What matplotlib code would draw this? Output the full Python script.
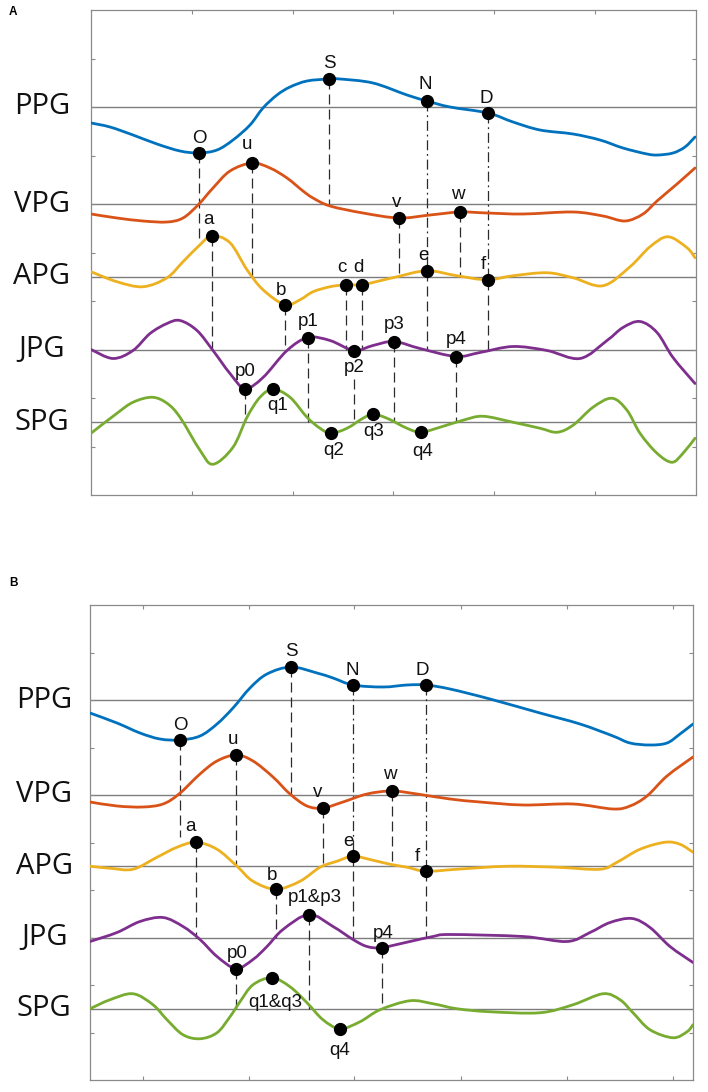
import matplotlib
matplotlib.use("Agg")
import matplotlib.pyplot as plt
from matplotlib.path import Path
from matplotlib.patches import PathPatch
from matplotlib.transforms import blended_transform_factory

# waveform names, colours (MATLAB default order) and baseline levels in y-tick units
SIGNALS = ['PPG', 'VPG', 'APG', 'JPG', 'SPG']
COLORS = ['#0072BD', '#D95319', '#EDB120', '#7E2F8E', '#77AC30']
LEVELS = [8.0, 6.0, 4.5, 3.0, 1.5]

# ---------------- panel A traces (t = samples, y = offset from own baseline)
PPG_A_T = [0, 19, 42, 66, 89, 108, 126, 142, 159, 172, 186, 199, 216, 238, 249, 282, 316,
           336, 359, 397, 422, 449, 482, 509, 532, 556, 567, 582, 594, 604]
PPG_A_Y = [-16, -20, -28, -37, -44, -46, -43, -33, -18, -1, 12, 20, 26, 28, 28, 24, 12,
           6, 0, -6, -15, -23, -27, -33, -41, -47, -48, -46, -40, -30]
VPG_A_T = [0, 26, 52, 76, 92, 107, 122, 139, 161, 179, 196, 212, 222, 239, 272, 308, 339,
           369, 396, 432, 482, 512, 534, 552, 566, 586, 604]
VPG_A_Y = [-10, -14, -17, -18, -14, -1, 16, 33, 41, 36, 26, 13, 6, -2, -9, -14, -11,
           -8, -9, -10, -8, -12, -17, -10, 3, 20, 36]
APG_A_T = [0, 26, 52, 76, 92, 109, 121, 139, 156, 172, 194, 209, 222, 239, 255, 271, 289,
           306, 336, 366, 396, 422, 456, 482, 512, 539, 559, 577, 596, 604]
APG_A_Y = [5, -5, -10, -1, 15, 32, 41, 34, 7, -13, -28, -23, -15, -10, -8, -8, -4,
           0, 6, 1, -3, 1, 4, -1, -9, 10, 30, 40, 29, 19]
JPG_A_T = [0, 22, 42, 59, 76, 89, 106, 122, 139, 154, 172, 196, 217, 239, 263, 282, 303,
           329, 365, 389, 422, 456, 489, 516, 532, 549, 566, 582, 604]
JPG_A_Y = [0, -9, -1, 16, 26, 29, 19, -1, -24, -39, -28, -1, 12, 9, -1, 4, 8,
           1, -7, -3, 3, -1, -9, 9, 22, 28, 17, -8, -34]
SPG_A_T = [0, 26, 42, 61, 76, 89, 109, 122, 142, 156, 169, 182, 199, 216, 229, 240, 256,
           272, 282, 296, 316, 330, 349, 372, 392, 422, 449, 466, 482, 502, 521, 536, 549,
           566, 581, 592, 604]
SPG_A_Y = [-11, 9, 20, 25, 19, 5, -28, -42, -25, 5, 25, 33, 25, 5, -6, -11, -6,
           4, 8, 4, -6, -10, -5, 2, 6, 0, -6, -10, -3, 15, 24, 12, -11,
           -31, -40, -31, -16]

# ---------------- panel B traces
PPG_B_T = [0, 27, 50, 70, 90, 110, 127, 143, 160, 177, 201, 227, 243, 263, 293, 317, 336,
           360, 400, 450, 490, 523, 540, 560, 577, 590, 603]
PPG_B_Y = [-13, -23, -33, -39, -40, -36, -24, -8, 12, 26, 33, 27, 22, 15, 13, 15, 15,
           11, 1, -13, -24, -36, -43, -45, -43, -34, -24]
VPG_B_T = [0, 27, 53, 73, 89, 110, 127, 146, 163, 183, 200, 217, 233, 253, 277, 302, 327,
           360, 390, 433, 483, 523, 540, 557, 577, 603]
VPG_B_Y = [-7, -11, -12, -9, 1, 21, 34, 40, 34, 18, 1, -11, -13, -7, 1, 4, 1,
           -4, -7, -10, -9, -14, -11, -1, 19, 38]
APG_B_T = [0, 20, 43, 67, 87, 106, 127, 147, 163, 186, 210, 230, 247, 263, 283, 300, 317,
           336, 367, 417, 467, 510, 527, 550, 575, 590, 603]
APG_B_Y = [0, -2, -3, 9, 19, 24, 17, 0, -15, -23, -15, -1, 5, 10, 6, 2, -1,
           -5, -3, 0, -1, -3, 4, 17, 24, 22, 14]
JPG_B_T = [0, 27, 50, 73, 93, 110, 127, 146, 163, 177, 193, 219, 243, 263, 277, 292, 320,
           343, 360, 433, 477, 500, 520, 542, 560, 580, 603]
JPG_B_Y = [-4, 5, 16, 20, 11, -2, -19, -31, -22, -9, 8, 23, 11, -2, -9, -10, -4,
           1, 3, 1, -4, 5, 15, 19, 10, -9, -25]
SPG_B_T = [0, 20, 43, 63, 77, 93, 110, 127, 140, 150, 163, 182, 200, 217, 233, 250, 270,
           290, 320, 343, 367, 400, 450, 483, 513, 530, 543, 560, 583, 597, 603]
SPG_B_Y = [0, 9, 15, 4, -11, -26, -30, -24, -8, 7, 24, 31, 22, 6, -11, -20, -13,
           -1, 8, 5, 0, -3, -4, 4, 15, 9, -4, -21, -29, -23, -16]

# ---------------- fiducial points
A_NAMES = ['O', 'S', 'N', 'D', 'u', 'v', 'w', 'a', 'b', 'c', 'd', 'e', 'f',
           'p0', 'p1', 'p2', 'p3', 'p4', 'q1', 'q2', 'q3', 'q4']
A_SIG = [0, 0, 0, 0, 1, 1, 1, 2, 2, 2, 2, 2, 2, 3, 3, 3, 3, 3, 4, 4, 4, 4]
A_T = [108, 238, 336, 397, 161, 308, 369, 121, 194, 255, 271, 336, 397,
       154, 217, 263, 303, 365, 182, 240, 282, 330]
A_Y = [-46, 28, 6, -6, 41, -14, -8, 41, -28, -8, -8, 6, -3,
       -39, 12, -1, 8, -7, 33, -11, 8, -10]

B_NAMES = ['O', 'S', 'N', 'D', 'u', 'v', 'w', 'a', 'b', 'e', 'f',
           'p0', 'p1&p3', 'p4', 'q1&q3', 'q4']
B_SIG = [0, 0, 0, 0, 1, 1, 1, 2, 2, 2, 2, 3, 3, 3, 4, 4]
B_T = [90, 201, 263, 336, 146, 233, 302, 106, 186, 263, 336, 146, 219, 292, 182, 250]
B_Y = [-40, 33, 15, 15, 40, -13, 4, 24, -23, 10, -5, -31, 23, -10, 31, -20]

# label offsets (pixels, text baseline relative to the dot)
A_LABEL_OFF = [(0, 10), (0, 11), (-2, 12), (-2, 10), (-5, 14), (-2, 11), (-2, 13),
               (-4, 12), (-4, 10), (-4, 13), (-4, 13), (-4, 11), (-5, 11),
               (0, 13), (0, 12), (0, -21), (0, 13), (0, 13),
               (5, -21), (3, -22), (1, -22), (2, -24)]
B_LABEL_OFF = [(0, 10), (0, 11), (-1, 10), (-4, 10), (-3, 11), (-5, 11), (-2, 12),
               (-6, 11), (-4, 9), (-5, 10), (-9, 10), (1, 11), (6, 12), (1, 10),
               (3, -29), (0, -26)]

# guide lines: from a point down to (signal, offset)
A_GUIDE_FROM = ['O', 'u', 'S', 'N', 'D', 'v', 'w', 'a', 'b', 'c', 'd', 'e', 'f',
                'p0', 'p1', 'p2', 'p3', 'p4']
A_GUIDE_TO = [(2, 37), (2, 0), (1, 0), (2, 6), (2, -3), (2, 0), (2, 0), (3, 0), (3, 0),
              (3, 0), (3, 0), (3, 0), (3, 0), (4, 0), (4, 0), (4, 0), (4, 0), (4, 0)]
B_GUIDE_FROM = ['O', 'u', 'S', 'N', 'D', 'v', 'w', 'a', 'b', 'e', 'f', 'p0', 'p1&p3', 'p4']
B_GUIDE_TO = [(2, 29), (2, 0), (1, 0), (2, 10), (2, -5), (2, 0), (2, 0), (3, 0), (3, 0),
              (3, 0), (3, 0), (4, 0), (4, 0), (4, 0)]
DASHDOT_FROM = ['N', 'D']

DASHED = (0, (8, 4))
DASHDOT = (0, (8, 3, 1.5, 3))


def smooth_path(xs, ys):
    """Catmull-Rom through the read points, drawn as cubic Bezier segments."""
    n = len(xs)
    verts = [(xs[0], ys[0])]
    codes = [Path.MOVETO]
    for i in range(n - 1):
        x0, y0 = (xs[i - 1], ys[i - 1]) if i > 0 else (xs[i], ys[i])
        x1, y1 = xs[i], ys[i]
        x2, y2 = xs[i + 1], ys[i + 1]
        x3, y3 = (xs[i + 2], ys[i + 2]) if i + 2 < n else (x2, y2)
        c1 = (x1 + (x2 - x0) / 6.0, y1 + (y2 - y0) / 6.0)
        c2 = (x2 - (x3 - x1) / 6.0, y2 - (y3 - y1) / 6.0)
        verts += [c1, c2, (x2, y2)]
        codes += [Path.CURVE4] * 3
    return Path(verts, codes)


def draw_panel(fig, rect, tag, tag_xy, traces, names, sig, pt, py, label_off,
               guide_from, guide_to, xmax, xticks, yunit, label_x):
    ax = fig.add_axes(rect)
    base = [lv * yunit for lv in LEVELS]
    ax.set_xlim(0, xmax)
    ax.set_ylim(0, 10 * yunit)
    ax.set_xticks(xticks)
    ax.set_yticks([k * yunit for k in range(1, 10)])
    ax.tick_params(direction='in', length=3, width=0.8, color='#8a8a8a',
                   top=True, right=True, labelbottom=False, labelleft=False)
    for s in ax.spines.values():
        s.set_color('#8a8a8a')
        s.set_linewidth(0.9)

    for b in base:
        ax.axhline(b, color='#7d7d7d', lw=1.0, zorder=1)

    for i, (t, y) in enumerate(traces):
        p = smooth_path(t, [base[i] + v for v in y])
        ax.add_patch(PathPatch(p, fill=False, edgecolor=COLORS[i], lw=2.0,
                               capstyle='round', joinstyle='round', zorder=3))

    idx = {n: k for k, n in enumerate(names)}
    for name, (to_sig, to_off) in zip(guide_from, guide_to):
        k = idx[name]
        top = base[sig[k]] + py[k]
        dy = label_off[k][1]
        if dy < 0:
            top += dy - 7
        ls = DASHDOT if name in DASHDOT_FROM else DASHED
        ax.plot([pt[k], pt[k]], [top, base[to_sig] + to_off], color='#2b2b2b',
                lw=0.9, ls=ls, zorder=2)

    for k, name in enumerate(names):
        y = base[sig[k]] + py[k]
        ax.plot(pt[k], y, 'o', color='black', ms=8.5, zorder=5)
        ax.annotate(name, (pt[k], y), xytext=label_off[k], textcoords='offset pixels',
                    ha='center', va='baseline', fontsize=13.5,
                    family='Liberation Sans', color='#111111', zorder=6)

    tr = blended_transform_factory(ax.transAxes, ax.transData)
    for name, b in zip(SIGNALS, base):
        ax.text(label_x, b, name, transform=tr, ha='center', va='center',
                fontsize=21, family='Open Sans', color='#111111')

    fig.text(tag_xy[0], tag_xy[1], tag, ha='center', va='center', fontsize=8.5,
             fontweight='bold', family='Liberation Sans')
    return ax


fig = plt.figure(figsize=(7.08, 10.92), dpi=100)

traces_a = [(PPG_A_T, PPG_A_Y), (VPG_A_T, VPG_A_Y), (APG_A_T, APG_A_Y),
            (JPG_A_T, JPG_A_Y), (SPG_A_T, SPG_A_Y)]
traces_b = [(PPG_B_T, PPG_B_Y), (VPG_B_T, VPG_B_Y), (APG_B_T, APG_B_Y),
            (JPG_B_T, JPG_B_Y), (SPG_B_T, SPG_B_Y)]

draw_panel(fig, [91 / 708, 597 / 1092, 605 / 708, 485 / 1092], 'A', (13 / 708, 1 - 12 / 1092),
           traces_a, A_NAMES, A_SIG, A_T, A_Y, A_LABEL_OFF, A_GUIDE_FROM, A_GUIDE_TO,
           xmax=605, xticks=[101, 202, 302, 403, 504], yunit=48.5, label_x=-0.081)
draw_panel(fig, [90 / 708, 12 / 1092, 603 / 708, 475 / 1092], 'B', (13 / 708, 1 - 583 / 1092),
           traces_b, B_NAMES, B_SIG, B_T, B_Y, B_LABEL_OFF, B_GUIDE_FROM, B_GUIDE_TO,
           xmax=603, xticks=[53, 159, 264, 371, 477, 583], yunit=47.5, label_x=-0.076)

fig.savefig('out.png', dpi=100)
